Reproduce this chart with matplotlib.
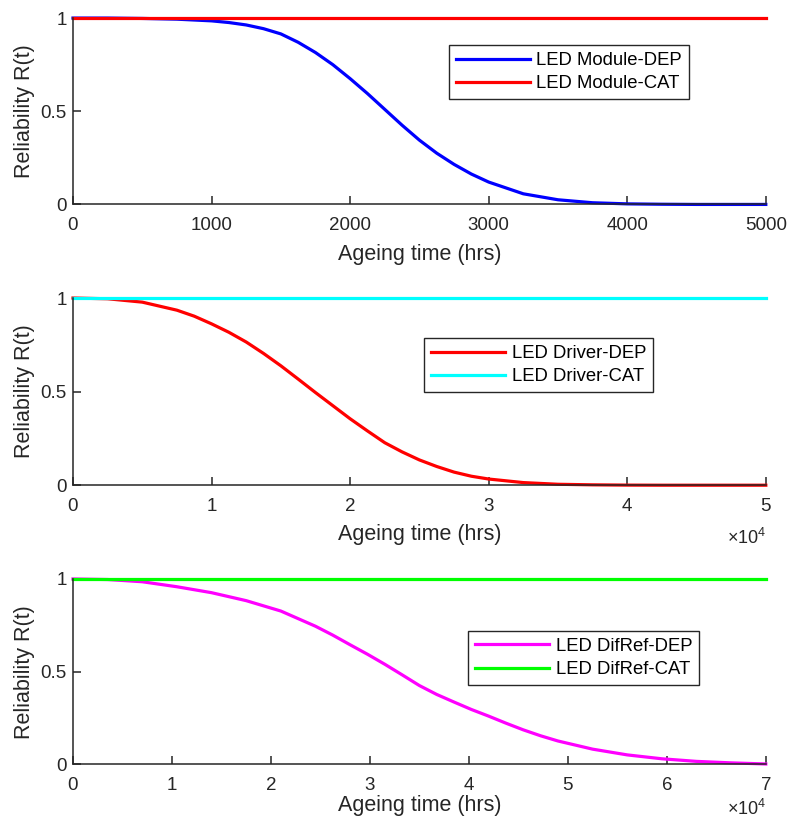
import matplotlib
matplotlib.use("Agg")
import matplotlib.pyplot as plt
from matplotlib.ticker import FuncFormatter

plt.rcParams['font.family'] = ['Liberation Sans', 'DejaVu Sans']
plt.rcParams['mathtext.fontset'] = 'custom'
plt.rcParams['mathtext.rm'] = 'Liberation Sans'

# data

# LED module (hrs)
t_module = [0, 250, 500, 750, 1000, 1125, 1250, 1375, 1500, 1625, 1750, 1875, 2000,
            2125, 2250, 2375, 2500, 2625, 2750, 2875, 3000, 3250, 3500, 3750,
            4000, 4250, 4500, 4750, 5000]
r_module_dep = [1.0, 1.0, 0.998, 0.994, 0.985, 0.976, 0.963, 0.943, 0.915, 0.87, 0.815, 0.75, 0.675,
                0.595, 0.51, 0.425, 0.345, 0.275, 0.215, 0.163, 0.12, 0.057, 0.025, 0.009,
                0.003, 0.001, 0.0, 0.0, 0.0]
t_module_cat = [0, 5000]
r_module_cat = [1.0, 1.0]

# LED driver (hrs)
t_driver = [0, 2500, 5000, 7500, 8750, 10000, 11250, 12500, 13750, 15000, 16250, 17500,
            18750, 20000, 21250, 22500, 23750, 25000, 26250, 27500, 28750, 30000,
            32500, 35000, 37500, 40000, 42500, 45000, 47500, 50000]
r_driver_dep = [1.0, 0.996, 0.978, 0.935, 0.903, 0.862, 0.817, 0.765, 0.704, 0.638, 0.567, 0.495,
                0.425, 0.355, 0.29, 0.227, 0.178, 0.135, 0.1, 0.07, 0.048, 0.033,
                0.014, 0.005, 0.002, 0.0005, 0.0, 0.0, 0.0, 0.0]
t_driver_cat = [0, 50000]
r_driver_cat = [1.0, 1.0]

# LED DifRef (hrs)
t_difref = [0, 3500, 7000, 10500, 14000, 17500, 21000, 24500, 26250, 28000, 29750, 31500,
            33250, 35000, 36750, 38500, 40250, 42000, 43750, 45500, 47250, 49000,
            52500, 56000, 59500, 63000, 66500, 70000]
r_difref_dep = [1.0, 0.997, 0.985, 0.958, 0.926, 0.883, 0.827, 0.745, 0.697, 0.645, 0.594, 0.54,
                0.483, 0.425, 0.377, 0.336, 0.296, 0.26, 0.222, 0.186, 0.154, 0.126,
                0.082, 0.051, 0.03, 0.016, 0.008, 0.002]
t_difref_cat = [0, 70000]
r_difref_cat = [1.0, 1.0]

panels = [
    dict(t=t_module, r=r_module_dep, tc=t_module_cat, rc=r_module_cat, xmax=5000,
         ticks=[0, 1000, 2000, 3000, 4000, 5000], c1="#0000FF", c2="#FF0000",
         labels=["LED Module-DEP", "LED Module-CAT"], leg=(0.716, 0.71), scale=1,
         labelpad=7),
    dict(t=t_driver, r=r_driver_dep, tc=t_driver_cat, rc=r_driver_cat, xmax=50000,
         ticks=[0, 10000, 20000, 30000, 40000, 50000], c1="#FF0000", c2="#00FFFF",
         labels=["LED Driver-DEP", "LED Driver-CAT"], leg=(0.672, 0.642), scale=4,
         labelpad=7),
    dict(t=t_difref, r=r_difref_dep, tc=t_difref_cat, rc=r_difref_cat, xmax=70000,
         ticks=[0, 10000, 20000, 30000, 40000, 50000, 60000, 70000], c1="#FF00FF", c2="#00FF00",
         labels=["LED DifRef-DEP", "LED DifRef-CAT"], leg=(0.737, 0.574), scale=4,
         labelpad=1),
]

# axes rectangles in figure fraction (left, bottom, width, height)
rects = [
    (0.0924, 0.751, 0.877, 0.227),
    (0.0924, 0.409, 0.877, 0.228),
    (0.0924, 0.069, 0.877, 0.2258),
]
# offset of the x10^4 label below the axis (points)
sci_offset = [None, -38, -32]

fig = plt.figure(figsize=(7.9, 8.21), dpi=100)
axis_col = "#262626"

for p, rect, off in zip(panels, rects, sci_offset):
    ax = fig.add_axes(rect)
    ax.plot(p["t"], p["r"], color=p["c1"], lw=2.3, label=p["labels"][0], clip_on=False)
    ax.plot(p["tc"], p["rc"], color=p["c2"], lw=2.3, label=p["labels"][1], clip_on=False)
    ax.set_xlim(0, p["xmax"])
    ax.set_ylim(0, 1)
    ax.set_xticks(p["ticks"])
    ax.set_yticks([0, 0.5, 1])
    ax.set_yticklabels(["0", "0.5", "1"])
    div = 10 ** p["scale"] if p["scale"] > 1 else 1
    ax.xaxis.set_major_formatter(FuncFormatter(lambda v, pos, d=div: f"{v / d:g}"))
    if off is not None:
        ax.annotate(r"$\times10^{%d}$" % p["scale"], xy=(1, 0), xycoords="axes fraction",
                    xytext=(0, off), textcoords="offset points", ha="right", va="center",
                    fontsize=13, color=axis_col)
    for s in ["top", "right"]:
        ax.spines[s].set_visible(False)
    for s in ["left", "bottom"]:
        ax.spines[s].set_color(axis_col)
        ax.spines[s].set_linewidth(1.1)
    ax.tick_params(direction="in", length=5.5, width=1.1, colors=axis_col,
                   labelsize=13.5, labelcolor=axis_col)
    ax.tick_params(axis="x", pad=9)
    ax.tick_params(axis="y", pad=4.5)
    ax.set_xlabel("Ageing time (hrs)", fontsize=15.5, color=axis_col, labelpad=p["labelpad"])
    ax.set_ylabel("Reliability R(t)", fontsize=15.5, color=axis_col, labelpad=4)
    leg = ax.legend(loc="center", bbox_to_anchor=p["leg"], fontsize=13.3, frameon=True,
                    fancybox=False, framealpha=1, edgecolor=axis_col, handlelength=4,
                    handletextpad=0.35, labelspacing=0.33, borderpad=0.38)
    leg.get_frame().set_linewidth(1.0)

fig.savefig("out.png", dpi=100)
